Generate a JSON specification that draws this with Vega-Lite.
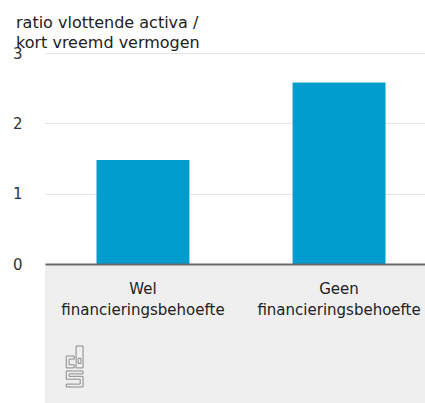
{
  "$schema": "https://vega.github.io/schema/vega-lite/v6.json",
  "width": 380,
  "height": 211,
  "autosize": {"type": "none"},
  "padding": {"left": 45, "top": 53, "right": 0, "bottom": 139},
  "background": "white",
  "config": {"view": {"stroke": null}, "font": "DejaVu Sans"},
  "title": {
    "text": ["ratio vlottende activa /", "kort vreemd vermogen"],
    "anchor": "start",
    "frame": "group",
    "dx": -29,
    "offset": -5,
    "fontSize": 16,
    "fontWeight": "normal",
    "color": "#222222",
    "lineHeight": 20
  },
  "data": {
    "values": [
      {"groep": "Wel financieringsbehoefte", "ratio": 1.48},
      {"groep": "Geen financieringsbehoefte", "ratio": 2.58}
    ]
  },
  "resolve": {"scale": {"x": "independent"}},
  "layer": [
    {
      "data": {"values": [{}]},
      "mark": {"type": "rect", "color": "#efefef"},
      "encoding": {
        "y": {"datum": 0, "type": "quantitative", "scale": {"domain": [0, 3], "nice": false}},
        "y2": {"datum": -1.98}
      }
    },
    {
      "mark": {"type": "bar", "color": "#009cce"},
      "encoding": {
        "x": {
          "field": "groep",
          "type": "nominal",
          "sort": null,
          "scale": {"paddingInner": 0.526, "paddingOuter": 0.232, "align": 0.566},
          "axis": {
            "title": null,
            "labelAngle": 0,
            "labelExpr": "split(datum.label, ' ')",
            "domainColor": "#6a6a6a",
            "domainWidth": 2,
            "ticks": false,
            "labelPadding": 17,
            "labelFontSize": 15,
            "labelColor": "#222222",
            "labelLineHeight": 21,
            "zindex": 1
          }
        },
        "y": {
          "field": "ratio",
          "type": "quantitative",
          "scale": {"domain": [0, 3], "nice": false},
          "axis": {
            "title": null,
            "values": [0, 1, 2, 3],
            "format": "d",
            "grid": true,
            "gridColor": "#e3e3e3",
            "domain": false,
            "ticks": false,
            "labelPadding": 23,
            "labelFontSize": 15,
            "labelColor": "#333333",
            "zindex": 0
          }
        }
      }
    },
    {
      "data": {"values": [{}]},
      "mark": {
        "type": "point",
        "shape": "M-0.02,-0.51 L-0.41,-0.51 L-0.41,0.07 L-0.02,0.07 L-0.02,-0.08 L-0.27,-0.08 L-0.27,-0.36 L-0.02,-0.36 Z M0.07,-1 L0.41,-1 L0.41,0.07 L0.07,0.07 Z M0.17,-0.4 L0.31,-0.4 L0.31,-0.15 L0.17,-0.15 Z M0.41,0.22 L-0.41,0.22 L-0.41,0.62 L0.27,0.62 L0.27,0.86 L-0.41,0.86 L-0.41,1 L0.41,1 L0.41,0.48 L-0.27,0.48 L-0.27,0.36 L0.41,0.36 Z",
        "filled": false,
        "stroke": "#8a8a8a",
        "strokeWidth": 1,
        "opacity": 1,
        "size": 1681
      },
      "encoding": {
        "x": {"datum": 0.078, "type": "quantitative", "scale": {"domain": [0, 1]}, "axis": null},
        "y": {"datum": -1.457, "type": "quantitative"}
      }
    }
  ]
}
